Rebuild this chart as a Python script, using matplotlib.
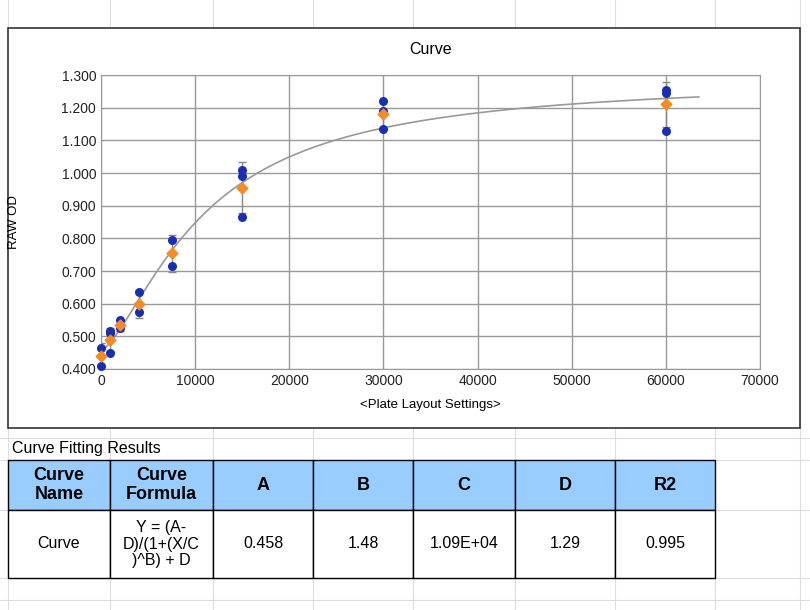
import numpy as np
import matplotlib
matplotlib.use('Agg')
import matplotlib.pyplot as plt
from matplotlib.patches import Rectangle

plt.rcParams['font.family'] = ['Liberation Sans', 'DejaVu Sans']

# Du lieu doc tu hinh
conc = [0, 1000, 2000, 4000, 7500, 15000, 30000, 60000]
reps = [
    [0.465, 0.41],
    [0.515, 0.45, 0.51],
    [0.55, 0.525],
    [0.635, 0.575],
    [0.795, 0.715],
    [1.01, 0.99, 0.865],
    [1.22, 1.19, 1.135],
    [1.255, 1.245, 1.13],
]
means = [0.44, 0.49, 0.535, 0.60, 0.755, 0.955, 1.18, 1.21]
fit_A, fit_B, fit_C, fit_D, fit_R2 = 0.458, 1.48, 1.09e4, 1.29, 0.995
col_headers = ["Curve\nName", "Curve\nFormula", "A", "B", "C", "D", "R2"]
row_values = ["Curve", "Y = (A-\nD)/(1+(X/C\n)^B) + D", "0.458", "1.48", "1.09E+04", "1.29", "0.995"]

W, H = 810, 610
fig = plt.figure(figsize=(W / 100, H / 100), dpi=100)

# nen bang tinh (pixel coords, y xuong duoi)
bg = fig.add_axes([0, 0, 1, 1])
bg.set_xlim(0, W)
bg.set_ylim(H, 0)
bg.axis('off')
grid_cols = [8, 110, 213, 313, 413, 515, 615, 715, 800]
for x in grid_cols:
    bg.plot([x, x], [0, H], color='#dddddd', lw=0.8, zorder=0)
for y in [438, 460, 510, 578, 600]:
    bg.plot([0, W], [y, y], color='#dddddd', lw=0.8, zorder=0)
bg.add_patch(Rectangle((8, 28), 792, 400, facecolor='white', edgecolor='#333333', lw=1.2, zorder=1))
bg.text(12, 449, "Curve Fitting Results", fontsize=11.5, va='center', ha='left', zorder=2)

# bang ket qua
tx = grid_cols[:8]
for i in range(7):
    bg.add_patch(Rectangle((tx[i], 460), tx[i + 1] - tx[i], 50, facecolor='#99ccff', edgecolor='black', lw=1, zorder=2))
    bg.add_patch(Rectangle((tx[i], 510), tx[i + 1] - tx[i], 68, facecolor='white', edgecolor='black', lw=1, zorder=2))
    cx = (tx[i] + tx[i + 1]) / 2
    bg.text(cx, 485, col_headers[i], fontsize=13, weight='bold', ha='center', va='center', linespacing=1.2, zorder=3)
    bg.text(cx, 544, row_values[i], fontsize=11.5, ha='center', va='center', linespacing=1.1, zorder=3)

# bieu do
ax = fig.add_axes([101 / W, 1 - 369 / H, (760 - 101) / W, (369 - 75) / H])
ax.set_xlim(0, 70000)
ax.set_ylim(0.4, 1.3)
ax.set_xticks(np.arange(0, 70001, 10000))
ax.set_yticks(np.arange(0.4, 1.301, 0.1))
ax.set_yticklabels([f"{v:.3f}" for v in np.arange(0.4, 1.301, 0.1)])
ax.grid(True, color='#999999', lw=1)
ax.set_axisbelow(True)
for s in ax.spines.values():
    s.set_color('#999999')
ax.tick_params(length=0, labelsize=10, colors='#222222')

xs = np.linspace(0, 63500, 400)
ax.plot(xs, (fit_A - fit_D) / (1 + (xs / fit_C) ** fit_B) + fit_D, color='#999999', lw=1.2, zorder=2)

errs = [np.std(r, ddof=1) for r in reps]
ax.errorbar(conc, means, yerr=errs, fmt='none', ecolor='#888888', capsize=3, lw=1, zorder=3)
for x, r in zip(conc, reps):
    ax.scatter([x] * len(r), r, color='#1a2fb0', s=30, zorder=4, clip_on=False)
ax.scatter(conc, means, color='#f28c28', marker='D', s=30, zorder=5, clip_on=False)

ax.set_title("Curve", fontsize=11.5, pad=15)
ax.set_xlabel("<Plate Layout Settings>", fontsize=9.5, labelpad=8)
fig.text(14 / W, 1 - 222 / H, "RAW OD", rotation=90, fontsize=9.5, va='center', ha='center')

fig.savefig("out.png", dpi=100)
